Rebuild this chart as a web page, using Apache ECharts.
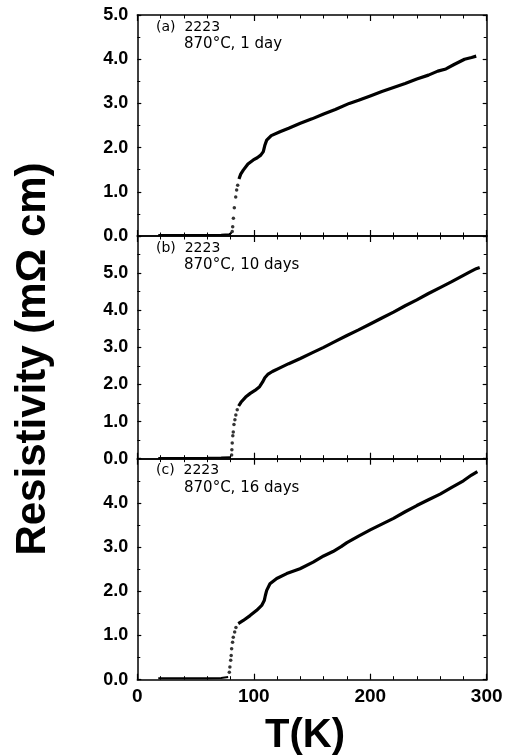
<!DOCTYPE html>
<html>
   <head>
       <meta charset="utf-8">
       <style>html,body{margin:0;padding:0;background:#fff;}</style>
   </head>
   <body>
       <div id="container" style="height: 756px;width: 508px;"></div>
   </body>
</html>
<script type="text/javascript" src="https://cdn.jsdelivr.net/npm/echarts@6/dist/echarts.min.js"></script>
<script type="text/javascript">
    // panel (a) 870°C, 1 day  -- [T(K), rho(mOhm cm)]
    const lowA = [[18,0.02],[30,0.02],[45,0.025],[60,0.025],[72,0.03],[79,0.04],[81,0.07]];
    const transA = [[81.5,0.10],[81.9,0.21],[82.5,0.40],[83.3,0.64],[84.5,0.88],[85.3,1.04],[86.2,1.15]];
    const normA = [[87.3,1.29],[88.8,1.40],[91,1.49],[95,1.63],[99.6,1.72],[103,1.77],[106,1.83],[108.2,1.91],
        [109.6,2.06],[111.1,2.17],[115,2.27],[122.5,2.36],[130,2.44],[140,2.55],[150,2.65],[160,2.76],[170,2.86],
        [182,3.00],[190,3.07],[200,3.17],[210,3.27],[220,3.36],[230,3.45],[240,3.55],[250,3.64],[258,3.73],
        [265,3.78],[272,3.88],[281,4.00],[287,4.04],[291,4.07]];
    // panel (b) 870°C, 10 days
    const lowB = [[18,0.02],[30,0.02],[45,0.02],[60,0.025],[72,0.03],[80,0.04]];
    const transB = [[81,0.10],[81.2,0.24],[81.5,0.42],[82,0.62],[82.4,0.72],[83,0.92],[83.8,1.05],[84.6,1.18],[85.8,1.32]];
    const normB = [[87,1.42],[89,1.52],[93,1.66],[97,1.76],[101,1.84],[105,1.94],[107.5,2.06],[109.5,2.18],[112,2.27],
        [116,2.35],[122,2.44],[130,2.56],[140,2.70],[150,2.85],[160,3.00],[170,3.16],[180,3.32],[190,3.47],
        [200,3.63],[210,3.79],[220,3.95],[230,4.12],[240,4.28],[250,4.45],[260,4.61],[270,4.77],[280,4.94],
        [286,5.04],[291,5.12],[294,5.15]];
    // panel (c) 870°C, 16 days
    const lowC = [[18,0.03],[30,0.03],[45,0.03],[60,0.035],[72,0.04],[78,0.06]];
    const transC = [[79,0.17],[79.5,0.29],[80.2,0.44],[80.6,0.55],[81,0.70],[81.8,0.85],[82.4,0.96],[83.6,1.08],[84.7,1.18]];
    const normC = [[86.7,1.27],[91,1.34],[96.8,1.45],[102.5,1.57],[106.8,1.68],[109,1.79],[110,1.91],[111.1,2.02],
        [113.9,2.17],[119.7,2.29],[128.3,2.40],[139.7,2.51],[151,2.66],[160,2.80],[168,2.90],[175,3.01],[180,3.10],
        [190,3.25],[200,3.39],[210,3.52],[220,3.65],[230,3.80],[240,3.94],[250,4.07],[260,4.20],[270,4.35],
        [280,4.50],[287,4.63],[292,4.71]];

    const panelNames = ['(a)  2223', '(b)  2223', '(c)  2223'];
    const panelSub = ['870°C, 1 day', '870°C, 10 days', '870°C, 16 days'];
    const yMax = [5, 6, 5];
    const xTicks = [0, 100, 200, 300];

    drawChart();
    function drawChart() {
        const dom = document.getElementById("container");
        const myChart = echarts.init(dom);
        const fontFam = '"Liberation Sans", Arial, Helvetica, sans-serif';
        const tops = [15, 236, 458.7];
        const heights = [221, 222.7, 221];
        const grids = [], xAxes = [], yAxes = [], series = [], graphics = [];
        const lows = [lowA, lowB, lowC], trans = [transA, transB, transC], norms = [normA, normB, normC];
        const axisLine = {show: true, onZero: false, lineStyle: {color: '#000', width: 1.5}};
        for (let i = 0; i < 3; i++) {
            grids.push({left: 137.3, width: 349.4, top: tops[i], height: heights[i]});
            const last = (i === 2);
            // bottom + top x axes
            ['bottom', 'top'].forEach(function (pos) {
                xAxes.push({
                    type: 'value', gridIndex: i, position: pos, min: 0, max: 300, interval: 100,
                    axisLine: axisLine,
                    axisTick: {show: true, inside: true, length: 6, lineStyle: {color: '#000', width: 1.2}},
                    minorTick: {show: true, splitNumber: 5, length: 3.5, lineStyle: {color: '#000', width: 1}},
                    splitLine: {show: false},
                    axisLabel: {
                        show: last && pos === 'bottom', margin: 8, color: '#000',
                        fontFamily: fontFam, fontWeight: 'bold', fontSize: 19,
                        formatter: function (v) { return xTicks.indexOf(v) >= 0 ? String(v) : ''; }
                    }
                });
            });
            ['left', 'right'].forEach(function (pos) {
                const m = yMax[i];
                yAxes.push({
                    type: 'value', gridIndex: i, position: pos, min: 0, max: m, interval: 1,
                    axisLine: axisLine,
                    axisTick: {show: true, inside: true, length: 4, lineStyle: {color: '#000', width: 1.2}},
                    minorTick: {show: true, splitNumber: 2, length: 3, lineStyle: {color: '#000', width: 1}},
                    splitLine: {show: false},
                    axisLabel: {
                        show: pos === 'left', margin: 9, color: '#000',
                        fontFamily: fontFam, fontWeight: 'bold', fontSize: 18,
                        formatter: function (v) {
                            if (i > 0 && v === m) return '';
                            return v.toFixed(1);
                        }
                    }
                });
            });
            const xi = i * 2, yi = i * 2;
            series.push({
                type: 'line', xAxisIndex: xi, yAxisIndex: yi, data: lows[i], symbol: 'none',
                lineStyle: {color: '#000', width: 2}
            });
            series.push({
                type: 'scatter', xAxisIndex: xi, yAxisIndex: yi, data: trans[i], symbol: 'circle', symbolSize: 3.5,
                itemStyle: {color: '#000'}
            });
            series.push({
                type: 'line', xAxisIndex: xi, yAxisIndex: yi, data: norms[i], symbol: 'none',
                lineStyle: {color: '#000', width: 3.2}
            });
            graphics.push({
                type: 'text', left: 156, top: tops[i] + 5,
                style: {text: panelNames[i], font: '14px "DejaVu Sans", sans-serif', fill: '#000'}
            });
            graphics.push({
                type: 'text', left: 184, top: tops[i] + 22,
                style: {text: panelSub[i], font: '15px "DejaVu Sans", sans-serif', fill: '#000'}
            });
        }
        graphics.push({
            type: 'text', x: 33, y: 359, rotation: Math.PI / 2,
            style: {text: 'Resistivity (mΩ cm)', font: 'bold 42px ' + fontFam, fill: '#000',
                align: 'center', verticalAlign: 'middle', textAlign: 'center', textVerticalAlign: 'middle'}
        });
        graphics.push({
            type: 'text', x: 305, y: 736,
            style: {text: 'T(K)', font: 'bold 40px ' + fontFam, fill: '#000',
                align: 'center', verticalAlign: 'middle', textAlign: 'center', textVerticalAlign: 'middle'}
        });
        const option = {
            animation: false,
            backgroundColor: '#fff',
            grid: grids,
            xAxis: xAxes,
            yAxis: yAxes,
            series: series,
            graphic: graphics
        };
        myChart.setOption(option, true);
    }
</script>
